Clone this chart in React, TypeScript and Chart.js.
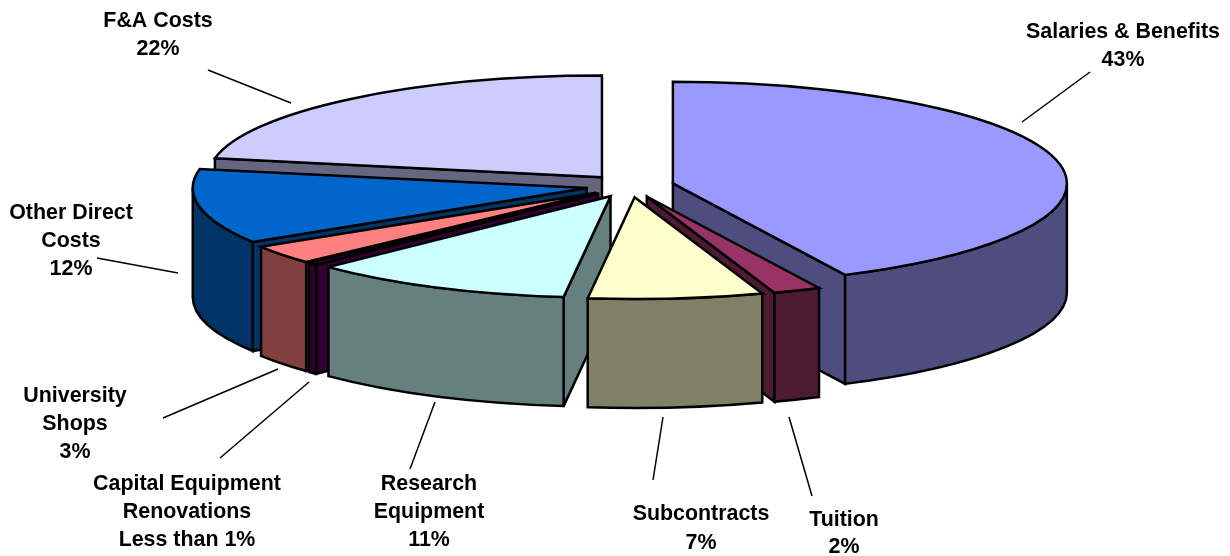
import React, { useEffect, useRef } from "react";
import { Chart, registerables } from "chart.js";

Chart.register(...registerables);

const categories = ["Salaries & Benefits", "Tuition", "Subcontracts", "Research Equipment", "Capital Equipment Renovations", "University Shops", "Other Direct Costs", "F&A Costs"];
const values = [42.8, 1.95, 7.15, 10.8, 0.4, 3, 11.9, 22];
const topColors = ["#9999FF", "#993366", "#FFFFCC", "#CCFFFF", "#660066", "#FF8080", "#0066CC", "#CCCCFF"];
const labelLines = [
  ["Salaries & Benefits", "43%"],
  ["Tuition", "2%"],
  ["Subcontracts", "7%"],
  ["Research", "Equipment", "11%"],
  ["Capital Equipment", "Renovations", "Less than 1%"],
  ["University", "Shops", "3%"],
  ["Other Direct", "Costs", "12%"],
  ["F&A Costs", "22%"],
];
// label placement: centre x, y of each line
const labelX = [1123, 844, 701, 429, 187, 75, 71, 158];
const labelY = [
  [32, 60],
  [520, 547],
  [514, 543],
  [484, 512, 540],
  [484, 512, 540],
  [396, 424, 452],
  [213, 241, 269],
  [21, 49],
];
// leader lines: [x1, y1, x2, y2]
const leaders = [
  [1090, 72, 1022, 122],
  [789, 417, 812, 496],
  [663, 417, 653, 480],
  [435, 402, 410, 469],
  [309, 382, 220, 458],
  [278, 369, 163, 418],
  [178, 273, 97, 258],
  [291, 103, 208, 70],
];

const SQUASH = 0.258;
const DEPTH = 109;
const EXPLODE = 44;
const RADIUS = 394;

function darken(hex: string) {
  const n = parseInt(hex.slice(1), 16);
  const c = [(n >> 16) & 255, (n >> 8) & 255, n & 255].map((v) => Math.round(v / 2));
  return `rgb(${c[0]},${c[1]},${c[2]})`;
}

const pie3d = {
  id: "pie3d",
  beforeDatasetDraw(chart: any, args: any) {
    const ctx: CanvasRenderingContext2D = chart.ctx;
    const arcs = args.meta.data.map((arc: any, i: number) => {
      const p = arc.getProps(["x", "y", "startAngle", "endAngle", "outerRadius"], true);
      const mid = (p.startAngle + p.endAngle) / 2;
      const offset = arc.options.offset;
      return {
        i,
        start: p.startAngle,
        end: p.endAngle,
        r: p.outerRadius,
        ry: p.outerRadius * SQUASH,
        cx: p.x + Math.cos(mid) * offset,
        cy: p.y + Math.sin(mid) * offset * SQUASH,
        color: arc.options.backgroundColor as string,
      };
    });
    arcs.sort((a: any, b: any) => a.cy - b.cy);
    ctx.save();
    ctx.strokeStyle = "#000";
    ctx.lineWidth = 2.5;
    ctx.lineJoin = "miter";
    ctx.miterLimit = 4;
    const paint = (fill: string) => {
      ctx.fillStyle = fill;
      ctx.fill();
      ctx.stroke();
    };
    for (const s of arcs) {
      const side = darken(s.color);
      const face = (angle: number) => {
        const x = s.cx + Math.cos(angle) * s.r;
        const y = s.cy + Math.sin(angle) * s.ry;
        ctx.beginPath();
        ctx.moveTo(s.cx, s.cy);
        ctx.lineTo(x, y);
        ctx.lineTo(x, y + DEPTH);
        ctx.lineTo(s.cx, s.cy + DEPTH);
        ctx.closePath();
        paint(side);
      };
      // a cut face is visible when it looks toward the viewer
      if (Math.cos(s.start) < 0) face(s.start);
      if (Math.cos(s.end) > 0) face(s.end);
      // outer wall: the part of the rim on the near half
      const a0 = Math.max(s.start, 0);
      const a1 = Math.min(s.end, Math.PI);
      if (a1 > a0) {
        ctx.beginPath();
        ctx.ellipse(s.cx, s.cy, s.r, s.ry, 0, a0, a1);
        ctx.ellipse(s.cx, s.cy + DEPTH, s.r, s.ry, 0, a1, a0, true);
        ctx.closePath();
        paint(side);
      }
      // top
      ctx.beginPath();
      ctx.moveTo(s.cx, s.cy);
      ctx.ellipse(s.cx, s.cy, s.r, s.ry, 0, s.start, s.end);
      ctx.closePath();
      paint(s.color);
    }
    ctx.restore();
    return false;
  },
  afterDraw(chart: any) {
    const ctx: CanvasRenderingContext2D = chart.ctx;
    ctx.save();
    ctx.strokeStyle = "#000";
    ctx.lineWidth = 1.5;
    for (const [x1, y1, x2, y2] of leaders) {
      ctx.beginPath();
      ctx.moveTo(x1, y1);
      ctx.lineTo(x2, y2);
      ctx.stroke();
    }
    ctx.fillStyle = "#000";
    ctx.font = 'bold 21.4px "Liberation Sans", Arial, sans-serif';
    ctx.textAlign = "center";
    ctx.textBaseline = "middle";
    labelLines.forEach((lines, i) => {
      lines.forEach((line, j) => ctx.fillText(line, labelX[i], labelY[i][j]));
    });
    ctx.restore();
  },
};

export default function App() {
  const ref = useRef<HTMLCanvasElement>(null);
  useEffect(() => {
    const chart = new Chart(ref.current!, {
      type: "pie",
      data: {
        labels: categories,
        datasets: [
          {
            data: values,
            backgroundColor: topColors,
            offset: EXPLODE,
            borderWidth: 0,
            clip: false,
          } as any,
        ],
      },
      options: {
        animation: false,
        responsive: false,
        radius: RADIUS,
        layout: { padding: { left: 30, bottom: 184 } },
        plugins: { legend: { display: false }, tooltip: { enabled: false }, title: { display: false } },
      } as any,
      plugins: [pie3d as any],
    });
    return () => chart.destroy();
  }, []);
  return (
    <div style={{ position: "absolute", left: 0, top: 0, width: 1230, height: 556, background: "#fff" }}>
      <canvas ref={ref} width={1230} height={556} style={{ display: "block" }} />
    </div>
  );
}
